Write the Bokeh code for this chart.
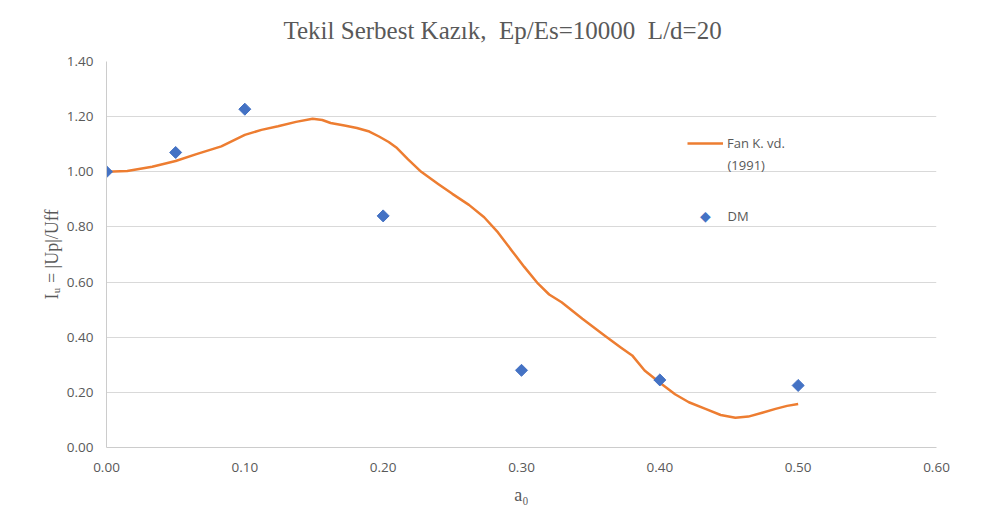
import math
from bokeh.plotting import figure
from bokeh.models import Range1d, FixedTicker, NumeralTickFormatter, Legend, LegendItem, Label
from bokeh.embed import file_html
from bokeh.resources import INLINE

# ---- data ----
title_text = "Tekil Serbest Kazık,\u00a0 Ep/Es=10000\u00a0 L/d=20"
x_label = "a\u2080"
y_label = "I\u1d64 = |Up|/Uff"

x_ticks = [0.0, 0.1, 0.2, 0.3, 0.4, 0.5, 0.6]
y_ticks = [0.0, 0.2, 0.4, 0.6, 0.8, 1.0, 1.2, 1.4]

dm_a0 = [0.00, 0.05, 0.10, 0.20, 0.30, 0.40, 0.50]
dm_iu = [1.00, 1.07, 1.227, 0.84, 0.28, 0.245, 0.225]

fan_a0 = [0.000, 0.015, 0.033, 0.050, 0.065, 0.083, 0.100, 0.112, 0.124, 0.137, 0.149,
          0.156, 0.162, 0.172, 0.181, 0.190, 0.197, 0.204, 0.210, 0.218, 0.2275, 0.240,
          0.250, 0.262, 0.273, 0.283, 0.293, 0.302, 0.312, 0.320, 0.329, 0.344, 0.360,
          0.372, 0.380, 0.389, 0.401, 0.411, 0.421, 0.433, 0.444, 0.4546, 0.464, 0.474,
          0.4836, 0.492, 0.500]
fan_iu = [1.000, 1.003, 1.018, 1.039, 1.064, 1.092, 1.134, 1.152, 1.165, 1.181, 1.192,
          1.188, 1.177, 1.168, 1.159, 1.146, 1.128, 1.108, 1.086, 1.045, 1.000, 0.955,
          0.920, 0.880, 0.835, 0.780, 0.714, 0.655, 0.594, 0.555, 0.527, 0.467, 0.406,
          0.362, 0.334, 0.279, 0.231, 0.193, 0.164, 0.140, 0.118, 0.108, 0.112, 0.126,
          0.140, 0.151, 0.158]

fan_label = "Fan K. vd."
fan_label2 = "(1991)"
dm_label = "DM"

TXT = "#595959"
GRID = "#d9d9d9"
FONT = "Open Sans"

p = figure(width=981, height=520, output_backend="svg", toolbar_location=None,
           x_range=Range1d(0, 0.6), y_range=Range1d(0, 1.4),
           min_border_left=106, min_border_right=45, min_border_top=61, min_border_bottom=73)

p.outline_line_color = None
p.background_fill_color = "white"
p.border_fill_color = "white"

p.title.text = title_text
p.title.text_font = "Liberation Serif"
p.title.text_font_style = "normal"
p.title.text_font_size = "25px"
p.title.text_color = TXT
p.title.align = "left"
p.title.offset = 177
p.title.vertical_align = "top"
p.title.standoff = 31

for ax in (p.xaxis, p.yaxis):
    ax.major_tick_line_color = None
    ax.minor_tick_line_color = None
    ax.major_tick_out = 0
    ax.major_tick_in = 0
    ax.minor_tick_out = 0
    ax.minor_tick_in = 0
    ax.axis_line_color = "#cccccc"
    ax.major_label_text_font = FONT
    ax.major_label_text_font_size = "13.5px"
    ax.major_label_text_color = TXT
    ax.formatter = NumeralTickFormatter(format="0.00")
    ax.axis_label_text_font = "Liberation Serif"
    ax.axis_label_text_font_style = "normal"
    ax.axis_label_text_font_size = "18px"
    ax.axis_label_text_color = TXT

p.xaxis.ticker = FixedTicker(ticks=x_ticks)
p.yaxis.ticker = FixedTicker(ticks=y_ticks)
p.xaxis.major_label_standoff = 15
p.yaxis.major_label_standoff = 13
p.xaxis.axis_label = x_label
p.yaxis.axis_label = y_label
p.xaxis.axis_label_standoff = 10
p.yaxis.axis_label_standoff = 2

p.xgrid.visible = False
p.ygrid.ticker = FixedTicker(ticks=y_ticks)
p.ygrid.grid_line_color = GRID
p.ygrid.grid_line_width = 1

r_fan = p.line(fan_a0, fan_iu, line_color="#ED7D31", line_width=2.5, line_join="round")
r_dm = p.scatter(dm_a0, dm_iu, marker="square", angle=math.pi / 4, size=8.5,
                 fill_color="#4472C4", line_color="#4472C4")

# legend (frame-relative screen units)
lg = Legend(items=[LegendItem(label=fan_label, renderers=[r_fan])], location=(581, 294),
            border_line_color=None, background_fill_alpha=0, padding=0, margin=0,
            spacing=0, glyph_width=36, glyph_height=20, label_height=20,
            label_standoff=4, label_text_font=FONT, label_text_font_size="13px",
            label_text_color=TXT)
p.add_layout(lg)

def screen_label(text, x, y, color=TXT, size="13px", align="left", font=FONT):
    p.add_layout(Label(x=x, y=y, x_units="screen", y_units="screen", text=text,
                       text_font=font, text_font_size=size, text_color=color,
                       text_align=align, text_baseline="middle"))

screen_label(fan_label2, 621, 283)
screen_label("\u25c6", 599, 232, color="#4472C4", size="14px", align="center", font="DejaVu Sans")
screen_label(dm_label, 621, 232)

open("out.html", "w").write(file_html(p, INLINE))
